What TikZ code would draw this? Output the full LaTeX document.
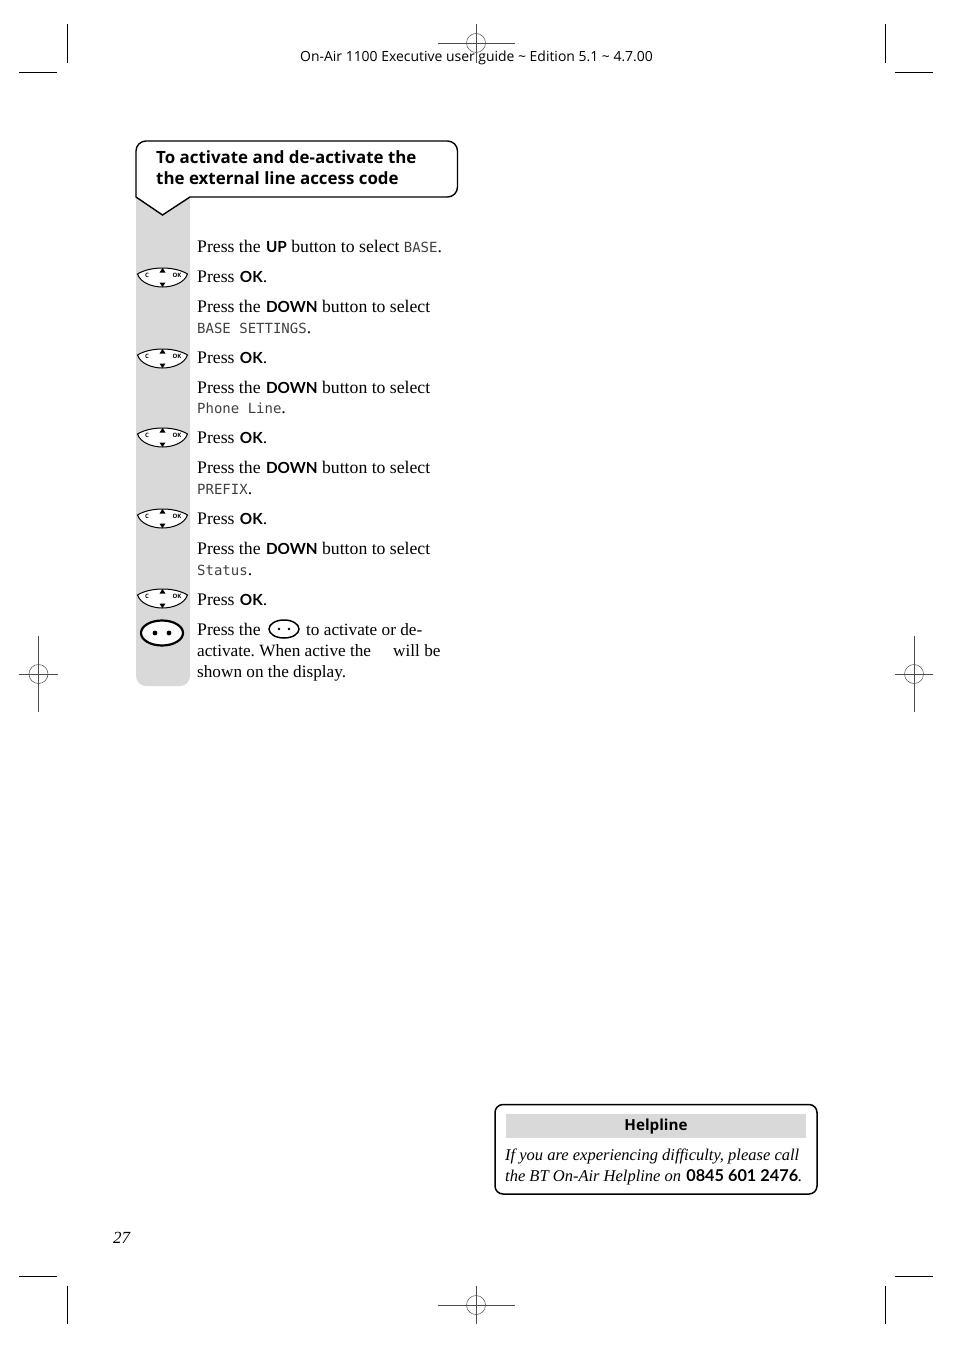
\documentclass[tikz,border=0pt]{standalone}
\usepackage{fontspec}
\setmainfont{Liberation Serif}
\setsansfont{Open Sans}
\newfontfamily\lcdfont{DejaVu Sans Mono}
\newfontfamily\keyfont{Lato}
\frenchspacing
\newcommand{\lcd}[1]{{\lcdfont\fontsize{14}{14}\selectfont\color{black!75}#1}}
\newcommand{\key}[2][15.3]{\kern1pt{\keyfont\fontsize{#1}{#1}\selectfont\bfseries\upshape #2}}
\tikzset{
  crop/.style={line width=0.9pt},
  reg/.style={line width=0.5pt,black!70},
  txt/.style={anchor=base west,inner sep=0pt,font=\fontsize{17.7}{17.7}\selectfont},
  txtb/.style={txt,font=\fontsize{17.2}{17.2}\selectfont},
  ital/.style={txt,font=\itshape\fontsize{16.5}{16.5}\selectfont},
  tag/.style={inner sep=0pt,font=\sffamily\bfseries\fontsize{6}{6}\selectfont},
  head/.style={anchor=base west,inner sep=0pt,font=\sffamily\fontsize{16.9}{16.9}\selectfont\bfseries},
  navkey/.pic={
    \draw[fill=white,line width=1pt] (-25,-3) .. controls (-12,-11) and (12,-11) .. (25,-3)
      .. controls (22,6) and (10,10) .. (0,10) .. controls (-10,10) and (-22,6) .. (-25,-3) -- cycle;
    \fill (0,-9) -- (-3,-4.5) -- (3,-4.5) -- cycle;
    \fill (0,10) -- (-3,5.5) -- (3,5.5) -- cycle;
    \node[tag] at (-15.5,-1.5) {C};
    \node[tag] at (14.5,-1.5) {OK};
  }
}
\begin{document}
\begin{tikzpicture}[x=1pt,y=-1pt]
  \useasboundingbox (0,0) rectangle (954,1351);
  % crop marks
  \foreach \x/\a/\b in {67/19/57,885/895/933} {
    \draw[crop] (\x,24) -- (\x,63);
    \draw[crop] (\a,72) -- (\b,72);
    \draw[crop] (\x,1286) -- (\x,1324);
    \draw[crop] (\a,1276) -- (\b,1276);
  }
  % registration marks
  \foreach \x/\y in {476/43,476/1305,38.5/674,914/674} {
    \draw[reg] (\x,\y) circle (9.5);
  }
  \draw[reg] (438,43) -- (515,43);
  \draw[reg] (476.5,24) -- (476.5,63);
  \draw[reg] (438,1305) -- (515,1305);
  \draw[reg] (476.5,1286) -- (476.5,1324);
  \draw[reg] (19,674) -- (58,674);
  \draw[reg] (38.5,636) -- (38.5,712);
  \draw[reg] (895,674) -- (933,674);
  \draw[reg] (914,636) -- (914,712);
  \node (header) [anchor=base,inner sep=0pt,font=\sffamily\fontsize{13.95}{13.95}\selectfont] at (476.5,62)
    {On-Air 1100 Executive user guide \textasciitilde{} Edition 5.1 \textasciitilde{} 4.7.00};
  % grey column and title
  \fill[black!15,rounded corners=10pt] (136,190) -- (136,686) -- (190,686) -- (190,190) -- cycle;
  \draw[fill=white,line width=1.4pt] (136,197) [rounded corners=10pt] -- (136,141) -- (457.5,141) -- (457.5,197) [sharp corners] -- (190,197) -- (162.5,215) -- cycle;
  \node (titlea) [head] at (156,164) {To activate and de-activate the};
  \node (titleb) [head] at (156,185) {the external line access code};
  % keys
  \foreach \y in {277,358,437,518,598} {
    \path (162.5,\y) pic {navkey};
  }
  \draw[line width=2.2pt,fill=white] (162,633) ellipse (21 and 12.5);
  \fill (155,633) circle (2.4) (169,633) circle (2.4);
  % steps
  \node (stepa) [txt] at (197,252) {Press the \key{UP} button to select \lcd{BASE}.};
  \node (stepb) [txt] at (197,282) {Press \key{OK}.};
  \node (stepc) [txt] at (197,312) {Press the \key{DOWN} button to select};
  \node (stepd) [txt] at (197,333) {\lcd{BASE SETTINGS}.};
  \node (stepe) [txt] at (197,363) {Press \key{OK}.};
  \node (stepf) [txt] at (197,393) {Press the \key{DOWN} button to select};
  \node (stepg) [txt] at (197,413) {\lcd{Phone Line}.};
  \node (steph) [txt] at (197,443) {Press \key{OK}.};
  \node (stepi) [txt] at (197,473) {Press the \key{DOWN} button to select};
  \node (stepj) [txt] at (197,494) {\lcd{PREFIX}.};
  \node (stepk) [txt] at (197,524) {Press \key{OK}.};
  \node (stepl) [txt] at (197,554) {Press the \key{DOWN} button to select};
  \node (stepm) [txt] at (197,575) {\lcd{Status}.};
  \node (stepn) [txt] at (197,605) {Press \key{OK}.};
  \node (stepo) [txt] at (197,635) {Press the};
  \draw[line width=1.5pt,fill=white] (284,629) ellipse (15 and 9);
  \fill (279,629) circle (1.3) (289,629) circle (1.3);
  \node (stepp) [txtb] at (306,635) {to activate or de-};
  \node (stepq) [txtb] at (197,656) {activate. When active the};
  \node (stepr) [txtb] at (393,656) {will be};
  \node (steps) [txtb] at (197,677) {shown on the display.};
  % helpline
  \draw[line width=1.5pt,rounded corners=8pt] (495,1104.5) rectangle (817,1194);
  \fill[black!15] (506,1114) rectangle (806,1138);
  \node (help) [inner sep=0pt,font=\sffamily\fontsize{15.2}{15.2}\selectfont\bfseries,anchor=base] at (656,1130) {Helpline};
  \node (helpa) [ital] at (505,1160) {If you are experiencing difficulty, please call};
  \node (helpb) [ital] at (505,1181) {the BT On-Air Helpline on \key[16.3]{0845 601 2476}.};
  \node (page) [txt,font=\itshape\fontsize{17}{17}\selectfont] at (113,1243) {27};
\end{tikzpicture}
\end{document}
